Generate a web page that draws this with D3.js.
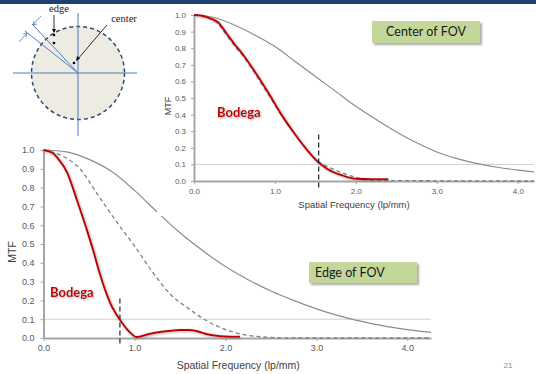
<!DOCTYPE html>
<meta charset="utf-8">
<style>
body { margin: 0; background: #fff; }
svg { display: block; font-family: "Liberation Sans", Arial, sans-serif; }
.axis path, .axis line { stroke: #a6a6a6; }
.axis path { stroke-width: 2; }
.axis text { fill: #595959; }
</style>
<svg width="536" height="374"></svg>
<script src="https://d3js.org/d3.v7.min.js"></script>
<script>

// ticks
var yTicks = [0, 0.1, 0.2, 0.3, 0.4, 0.5, 0.6, 0.7, 0.8, 0.9, 1.0];
var xTicks = [0, 1, 2, 3, 4];

// center of FOV (top chart)
var centerDiffX = [0, 0.25, 0.5, 0.75, 1, 1.25, 1.5, 1.75, 2, 2.25, 2.5, 2.75, 3, 3.25, 3.5, 3.75, 4, 4.2];
var centerDiffY = [1, 0.985, 0.94, 0.88, 0.81, 0.72, 0.63, 0.54, 0.45, 0.37, 0.295, 0.23, 0.175, 0.135, 0.105, 0.083, 0.066, 0.055];
var centerDashX = [0, 0.2, 0.3, 0.4, 0.5, 0.6, 0.75, 0.92, 1.08, 1.25, 1.53, 1.75, 2.0, 2.2, 4.2];
var centerDashY = [1, 0.975, 0.945, 0.88, 0.815, 0.755, 0.65, 0.52, 0.395, 0.28, 0.12, 0.065, 0.022, 0.003, 0];
var centerBodegaX = [0, 0.1, 0.2, 0.3, 0.4, 0.5, 0.6, 0.75, 0.92, 1.08, 1.25, 1.4, 1.53, 1.65, 1.82, 2.0, 2.2, 2.4];
var centerBodegaY = [1, 0.995, 0.98, 0.955, 0.89, 0.825, 0.765, 0.66, 0.53, 0.40, 0.28, 0.185, 0.116, 0.072, 0.036, 0.013, 0.01, 0.01];
var centerCutoff = 1.54;

// edge of FOV (bottom chart)
var edgeDiffX = [0, 0.25, 0.5, 0.75, 1, 1.25, 1.5, 1.75, 2, 2.25, 2.5, 2.75, 3, 3.25, 3.5, 3.75, 4, 4.26];
var edgeDiffY = [1, 0.99, 0.95, 0.885, 0.785, 0.67, 0.56, 0.465, 0.38, 0.31, 0.25, 0.2, 0.155, 0.118, 0.088, 0.063, 0.045, 0.03];
var edgeDashX = [0, 0.2, 0.4, 0.6, 0.8, 1.0, 1.2, 1.4, 1.6, 1.8, 2.0, 2.2, 2.4, 2.6, 2.8, 4.26];
var edgeDashY = [1, 0.97, 0.9, 0.76, 0.62, 0.49, 0.35, 0.23, 0.155, 0.09, 0.045, 0.018, 0.006, 0.001, 0, 0];
var edgeBodegaX = [0, 0.1, 0.15, 0.26, 0.37, 0.48, 0.55, 0.62, 0.73, 0.84, 0.95, 1.02, 1.15, 1.3, 1.5, 1.6, 1.7, 1.8, 1.9, 2.0, 2.16];
var edgeBodegaY = [1, 0.985, 0.96, 0.88, 0.73, 0.57, 0.46, 0.34, 0.19, 0.097, 0.03, 0.005, 0.02, 0.033, 0.043, 0.043, 0.035, 0.02, 0.012, 0.008, 0.006];
var edgeCutoff = 0.84;

var svg = d3.select("svg");

var defs = svg.append("defs");
defs.append("filter").attr("id", "shadow")
    .attr("x", "-10%").attr("y", "-10%").attr("width", "130%").attr("height", "130%")
  .append("feDropShadow")
    .attr("dx", 1).attr("dy", 1).attr("stdDeviation", 0.8)
    .attr("flood-color", "#777").attr("flood-opacity", 0.6);
defs.append("filter").attr("id", "boxshadow")
    .attr("x", "-10%").attr("y", "-20%").attr("width", "130%").attr("height", "160%")
  .append("feDropShadow")
    .attr("dx", 2).attr("dy", 2).attr("stdDeviation", 1.2)
    .attr("flood-color", "#555").attr("flood-opacity", 0.5);

// top bar
svg.append("rect").attr("x", 0).attr("y", 0).attr("width", 536).attr("height", 4).attr("fill", "#1f3f6f");

function zip(xs, ys) { return xs.map((x, i) => [x, ys[i]]); }

function drawChart(g, o) {
  var x = d3.scaleLinear().domain([0, o.xMax]).range([o.left, o.right]);
  var y = d3.scaleLinear().domain([0, 1]).range([o.bottom, o.top]);
  var line = d3.line().x(d => x(d[0])).y(d => y(d[1])).curve(d3.curveMonotoneX);

  // 0.1 grid line
  g.append("line")
      .attr("x1", x(0)).attr("x2", x(o.xMax))
      .attr("y1", y(0.1)).attr("y2", y(0.1))
      .attr("stroke", "#d0d0d0").attr("stroke-width", 1);

  g.append("g").attr("class", "axis")
      .attr("transform", "translate(" + o.left + ",0)")
      .call(d3.axisLeft(y).tickValues(yTicks).tickFormat(d3.format(".1f"))
        .tickSize(3).tickSizeOuter(0).tickPadding(o.yPad))
      .call(a => a.selectAll("text").attr("font-size", o.font));
  g.append("g").attr("class", "axis")
      .attr("transform", "translate(0," + o.bottom + ")")
      .call(d3.axisBottom(x).tickValues(xTicks).tickFormat(d3.format(".1f"))
        .tickSize(3).tickSizeOuter(0).tickPadding(o.xPad))
      .call(a => a.selectAll("text").attr("font-size", o.font));
  g.selectAll(".axis text").attr("font-family", "Liberation Sans, Arial, sans-serif");

  g.append("path").datum(zip(o.diffX, o.diffY))
      .attr("d", line).attr("fill", "none")
      .attr("stroke", "#8c8c8c").attr("stroke-width", 1.2);
  g.append("path").datum(zip(o.dashX, o.dashY))
      .attr("d", line).attr("fill", "none")
      .attr("stroke", "#7f7f7f").attr("stroke-width", 1.3).attr("stroke-dasharray", "4,3");
  g.append("path").datum(zip(o.bodX, o.bodY))
      .attr("d", line).attr("fill", "none")
      .attr("stroke", "#c00000").attr("stroke-width", 2)
      .attr("filter", "url(#shadow)");

  g.append("line")
      .attr("x1", x(o.cutoff)).attr("x2", x(o.cutoff))
      .attr("y1", y(o.cutTop)).attr("y2", y(-0.04))
      .attr("stroke", "#333").attr("stroke-width", 1.3).attr("stroke-dasharray", "5,3");

  g.append("text")
      .attr("x", (o.left + o.right) / 2 + o.titleShift).attr("y", o.titleY)
      .attr("text-anchor", "middle").attr("font-size", o.titleFont).attr("fill", "#404040")
      .text("Spatial Frequency (lp/mm)");
  g.append("text")
      .attr("transform", "translate(" + o.mtfX + "," + o.mtfY + ") rotate(-90)")
      .attr("text-anchor", "middle").attr("dy", "0.35em")
      .attr("font-size", o.mtfFont).attr("fill", "#404040")
      .text("MTF");

  g.append("text")
      .attr("x", o.bodLabel[0]).attr("y", o.bodLabel[1])
      .attr("font-family", "Lato, 'Open Sans', sans-serif").attr("font-weight", "bold")
      .attr("font-size", 13).attr("fill", "#c00000").attr("filter", "url(#shadow)")
      .text("Bodega");
}

// bottom chart (edge of FOV)
var edgeChart = svg.append("g");
drawChart(edgeChart, {
  left: 43.5, right: 431, top: 150, bottom: 338, xMax: 4.26,
  font: 9, yPad: 6, xPad: 4, titleFont: 10.5, titleY: 369, titleShift: 1,
  mtfX: 12, mtfY: 252, mtfFont: 10.5,
  diffX: edgeDiffX, diffY: edgeDiffY, dashX: edgeDashX, dashY: edgeDashY,
  bodX: edgeBodegaX, bodY: edgeBodegaY, cutoff: edgeCutoff, cutTop: 0.21,
  bodLabel: [50, 297]
});

// top chart panel (white backdrop)
svg.append("rect").attr("x", 157).attr("y", 4).attr("width", 379).attr("height", 212).attr("fill", "#fff");

var centerChart = svg.append("g");
drawChart(centerChart, {
  left: 194, right: 534, top: 15, bottom: 181, xMax: 4.2,
  font: 8, yPad: 5, xPad: 4, titleFont: 9.5, titleY: 208, titleShift: -10,
  mtfX: 167.5, mtfY: 106, mtfFont: 9,
  diffX: centerDiffX, diffY: centerDiffY, dashX: centerDashX, dashY: centerDashY,
  bodX: centerBodegaX, bodY: centerBodegaY, cutoff: centerCutoff, cutTop: 0.28,
  bodLabel: [217, 117]
});

// label boxes
function labelBox(x0, y0, w, h, txt, tx) {
  svg.append("rect").attr("x", x0).attr("y", y0).attr("width", w).attr("height", h)
      .attr("fill", "#c4d79b").attr("filter", "url(#boxshadow)");
  svg.append("text").attr("x", tx).attr("y", y0 + h / 2).attr("dy", "0.35em")
      .attr("text-anchor", tx === x0 + w / 2 ? "middle" : "start")
      .attr("font-family", "Lato, 'Open Sans', sans-serif").attr("font-size", 12.5).attr("fill", "#1a1a1a")
      .text(txt);
}
labelBox(372, 21, 108, 22, "Center of FOV", 426);
labelBox(309, 262, 108, 21, "Edge of FOV", 315);

// page number
svg.append("text").attr("x", 508).attr("y", 368).attr("text-anchor", "middle")
    .attr("font-size", 8).attr("fill", "#8c8c8c").text("21");

// FOV diagram
var dg = svg.append("g");
var blue = "#4a7ebb";
dg.append("circle").attr("cx", 78).attr("cy", 73).attr("r", 46.5)
    .attr("fill", "#eeebe2").attr("stroke", "#2c4d75").attr("stroke-width", 1.5)
    .attr("stroke-dasharray", "4,3");
dg.append("line").attr("x1", 13).attr("x2", 137).attr("y1", 73).attr("y2", 73).attr("stroke", blue).attr("stroke-width", 1);
dg.append("line").attr("x1", 78).attr("x2", 78).attr("y1", 13).attr("y2", 136).attr("stroke", blue).attr("stroke-width", 1);
dg.append("line").attr("x1", 78).attr("y1", 73).attr("x2", 25).attr("y2", 31).attr("stroke", blue).attr("stroke-width", 1);
dg.append("line").attr("x1", 78).attr("y1", 73).attr("x2", 32).attr("y2", 24).attr("stroke", blue).attr("stroke-width", 1);
// dimension arrows
dg.append("line").attr("x1", 19).attr("y1", 42).attr("x2", 27).attr("y2", 33).attr("stroke", blue).attr("stroke-width", 0.8);
dg.append("path").attr("d", "M27,33 l-1,4 M27,33 l-4,1").attr("stroke", blue).attr("stroke-width", 0.8).attr("fill", "none");
dg.append("line").attr("x1", 41).attr("y1", 16).attr("x2", 33).attr("y2", 25).attr("stroke", blue).attr("stroke-width", 0.8);
dg.append("path").attr("d", "M33,25 l1,-4 M33,25 l4,-1").attr("stroke", blue).attr("stroke-width", 0.8).attr("fill", "none");

// dots and callouts
[[54, 35], [54, 43], [74, 63]].forEach(p =>
  dg.append("circle").attr("cx", p[0]).attr("cy", p[1]).attr("r", 1.3).attr("fill", "#000"));
dg.append("line").attr("x1", 54).attr("y1", 15).attr("x2", 54).attr("y2", 32).attr("stroke", "#000").attr("stroke-width", 0.8);
dg.append("path").attr("d", "M54,33 l-2,-4 l4,0 z").attr("fill", "#000");
dg.append("line").attr("x1", 107).attr("y1", 25).attr("x2", 77).attr("y2", 60).attr("stroke", "#000").attr("stroke-width", 0.8);
dg.append("path").attr("d", "M76,61 l1,-5 l3,2.5 z").attr("fill", "#000");
dg.append("text").attr("x", 59).attr("y", 12).attr("text-anchor", "middle")
    .attr("font-family", "'Liberation Serif', 'DejaVu Serif', serif").attr("font-size", 10.5).attr("fill", "#1a1a1a").text("edge");
dg.append("text").attr("x", 124).attr("y", 22).attr("text-anchor", "middle")
    .attr("font-family", "'Liberation Serif', 'DejaVu Serif', serif").attr("font-size", 10.5).attr("fill", "#1a1a1a").text("center");

</script>
